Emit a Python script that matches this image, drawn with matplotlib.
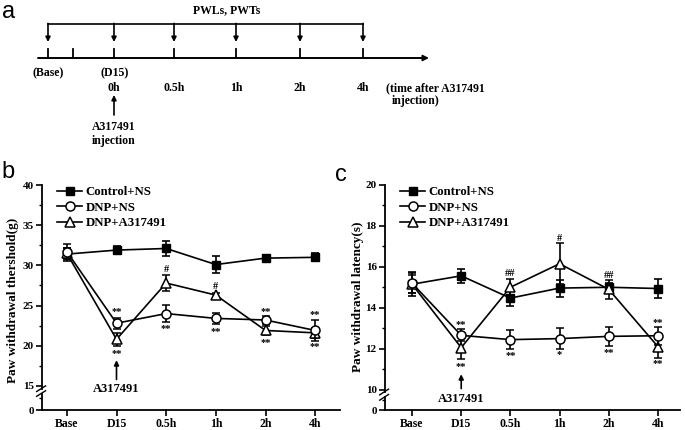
import matplotlib
matplotlib.use("Agg")
import matplotlib.pyplot as plt
from matplotlib.lines import Line2D
import matplotlib.transforms as mtransforms

# ---------------- data ----------------
time_labels = ['Base', 'D15', '0.5h', '1h', '2h', '4h']
series_names = ['Control+NS', 'DNP+NS', 'DNP+A317491']

# Panel b: paw withdrawal threshold (g)
pwt_control = [31.4, 31.9, 32.1, 30.1, 30.9, 31.0]
pwt_control_err = [0.8, 0.45, 0.95, 1.1, 0.35, 0.5]
pwt_dnp_ns = [31.7, 22.8, 24.0, 23.4, 23.2, 21.9]
pwt_dnp_ns_err = [0.9, 0.7, 1.1, 0.65, 0.5, 1.35]
pwt_dnp_a = [31.5, 20.8, 27.8, 26.3, 21.9, 21.6]
pwt_dnp_a_err = [0.7, 0.8, 0.95, 0.3, 0.55, 0.6]

# Panel c: paw withdrawal latency (s)
pwl_control = [15.15, 15.56, 14.47, 14.96, 15.0, 14.94]
pwl_control_err = [0.6, 0.33, 0.4, 0.42, 0.2, 0.48]
pwl_dnp_ns = [15.2, 12.65, 12.44, 12.49, 12.6, 12.63]
pwl_dnp_ns_err = [0.5, 0.3, 0.45, 0.5, 0.45, 0.45]
pwl_dnp_a = [15.15, 12.05, 15.0, 16.15, 14.9, 12.1]
pwl_dnp_a_err = [0.45, 0.55, 0.4, 1.0, 0.45, 0.55]

# significance marks (time index, y value, text)
b_marks = [(1, 24.3, '**'), (1, 19.0, '**'), (2, 29.5, '#'), (2, 22.2, '**'),
           (3, 27.4, '#'), (3, 21.8, '**'), (4, 24.3, '**'), (4, 20.35, '**'),
           (5, 23.9, '**'), (5, 19.9, '**')]
c_marks = [(1, 13.17, '**'), (1, 11.14, '**'), (2, 15.69, '##'), (2, 11.66, '**'),
           (3, 17.4, '#'), (3, 11.7, '*'), (4, 15.56, '##'), (4, 11.8, '**'),
           (5, 13.28, '**'), (5, 11.27, '**')]

# y-axis ticks (plotted position, label) for the broken axes
b_yticks = [12, 15, 20, 25, 30, 35, 40]
b_yticklabels = ['0', '15', '20', '25', '30', '35', '40']
b_yminor = [13.5, 17.5, 22.5, 27.5, 32.5, 37.5]
c_yticks = [9, 10, 12, 14, 16, 18, 20]
c_yticklabels = ['0', '10', '12', '14', '16', '18', '20']
c_yminor = [9.5, 11, 13, 15, 17, 19]

# panel a timeline
timeline_ticks_px = [48, 73, 114, 174, 236, 300, 363]
measure_px = [48, 114, 174, 236, 300, 363]
measure_labels = ['0h', '0.5h', '1h', '2h', '4h']

SERIF = 'Liberation Serif'
SANS = 'Liberation Sans'

W, H = 685, 430
fig = plt.figure(figsize=(W / 100, H / 100), dpi=100)

# ---------------- panel a (drawn in pixel coordinates) ----------------
a0 = fig.add_axes([0, 0, 1, 1])
a0.set_xlim(0, W)
a0.set_ylim(H, 0)
a0.axis('off')
fa = dict(family=SERIF, weight='bold', size=8.5)

a0.text(2, 12, 'a', family=SANS, size=17, va='center', ha='left')
a0.text(227, 10, 'PWLs, PWTs', ha='center', va='center', **fa)
a0.plot([measure_px[0], measure_px[-1]], [24, 24], color='k', lw=1.2)
for x in measure_px:
    a0.annotate('', xy=(x, 42), xytext=(x, 23.4),
                arrowprops=dict(arrowstyle='-|>', lw=1.2, color='k',
                                mutation_scale=7, shrinkA=0, shrinkB=0))
a0.annotate('', xy=(429, 58), xytext=(38, 58),
            arrowprops=dict(arrowstyle='-|>', lw=1.4, color='k',
                            mutation_scale=8, shrinkA=0, shrinkB=0))
for x in timeline_ticks_px:
    a0.plot([x, x], [49, 58], color='k', lw=1.3)
a0.text(48, 73, '(Base)', ha='center', va='center', **fa)
a0.text(115, 73, '(D15)', ha='center', va='center', **fa)
for x, lab in zip(measure_px[1:], measure_labels):
    a0.text(x, 88, lab, ha='center', va='center', **fa)
a0.text(386, 88, '(time after A317491', ha='left', va='center', **fa)
a0.text(392, 101, 'injection)', ha='left', va='center', **fa)
a0.annotate('', xy=(114, 95), xytext=(114, 115),
            arrowprops=dict(arrowstyle='-|>', lw=1.2, color='k',
                            mutation_scale=7, shrinkA=0, shrinkB=0))
a0.text(114, 127, 'A317491', ha='center', va='center', **fa)
a0.text(114, 141, 'injection', ha='center', va='center', **fa)


# ---------------- panels b and c ----------------
def panel(rect, ylim, yticks, yticklabels, yminor, ctrl, ctrl_e, ns, ns_e, da, da_e,
          marks, ylabel, ylabel_px, letter_px, letter, brk, arrow, xlim):
    ax = fig.add_axes(rect)
    x = list(range(len(time_labels)))
    lw = 1.2
    common = dict(color='k', lw=lw, elinewidth=lw, capsize=3, capthick=lw, clip_on=False)
    ax.errorbar(x, ctrl, yerr=ctrl_e, marker='s', ms=5.5, mfc='k', mec='k', zorder=3, **common)
    ax.errorbar(x, da, yerr=da_e, marker='^', ms=7, mfc='white', mec='k', mew=1.1, zorder=4, **common)
    ax.errorbar(x, ns, yerr=ns_e, marker='o', ms=6.5, mfc='white', mec='k', mew=1.1, zorder=5, **common)
    ax.set_xlim(*xlim)
    ax.set_ylim(*ylim)
    for s in ['top', 'right', 'left']:
        ax.spines[s].set_visible(False)
    ax.spines['bottom'].set_linewidth(1.3)
    ax.set_xticks(x)
    ax.set_xticklabels(time_labels, family=SERIF, weight='bold', size=8.5)
    ax.set_yticks(yticks)
    ax.set_yticklabels(yticklabels, family=SERIF, weight='bold', size=8)
    ax.set_yticks(yminor, minor=True)
    ax.tick_params(axis='both', which='major', direction='out', length=4, width=1.2, pad=2)
    ax.tick_params(axis='y', which='minor', direction='out', length=2.5, width=1.0)
    # broken left spine
    tr = mtransforms.blended_transform_factory(ax.transAxes, ax.transData)
    lo, hi, dy = brk
    ax.plot([0, 0], [ylim[0], lo], color='k', lw=1.3, transform=tr, clip_on=False)
    ax.plot([0, 0], [hi, ylim[1]], color='k', lw=1.3, transform=tr, clip_on=False)
    for yc in (lo, hi):
        ax.plot([-0.018, 0.012], [yc - dy, yc + dy], color='k', lw=1.0,
                transform=tr, clip_on=False)
    # significance marks
    for xi, yv, t in marks:
        ax.text(xi, yv, t, ha='center', va='center', family=SERIF, weight='bold', size=7.5)
    # injection arrow
    tip, tail, ytext = arrow
    ax.annotate('', xy=(1, tip), xytext=(1, tail),
                arrowprops=dict(arrowstyle='-|>', lw=1.2, color='k',
                                mutation_scale=7, shrinkA=0, shrinkB=0))
    ax.text(1, ytext, 'A317491', ha='center', va='center', family=SERIF, weight='bold', size=9)
    # legend
    handles = [Line2D([], [], color='k', lw=lw, marker='s', ms=5.5, mfc='k', mec='k'),
               Line2D([], [], color='k', lw=lw, marker='o', ms=6.5, mfc='white', mec='k', mew=1.1),
               Line2D([], [], color='k', lw=lw, marker='^', ms=7, mfc='white', mec='k', mew=1.1)]
    ax.legend(handles, series_names, loc='upper left', bbox_to_anchor=(0.05, 0.995),
              frameon=False, handlelength=2.0, handletextpad=0.25, labelspacing=0.27,
              borderaxespad=0, borderpad=0,
              prop=dict(family=SERIF, weight='bold', size=9.2))
    fig.text(ylabel_px[0] / W, 1 - ylabel_px[1] / H, ylabel, rotation=90, ha='center', va='center',
             family=SERIF, weight='bold', size=9.5)
    fig.text(letter_px[0] / W, 1 - letter_px[1] / H, letter, family=SANS, size=17,
             ha='left', va='center')
    return ax


axb = panel([42 / W, 1 - 410 / H, 298 / W, 225 / H], (12, 40), b_yticks, b_yticklabels, b_yminor,
            pwt_control, pwt_control_err, pwt_dnp_ns, pwt_dnp_ns_err, pwt_dnp_a, pwt_dnp_a_err,
            b_marks, 'Paw withdrawal thershold(g)', (13, 300), (1, 172), 'b',
            (14.05, 14.65, 0.35), (18.2, 15.8, 14.6), (-0.5, 5.5))
axc = panel([385 / W, 1 - 410 / H, 295 / W, 225 / H], (9, 20), c_yticks, c_yticklabels, c_yminor,
            pwl_control, pwl_control_err, pwl_dnp_ns, pwl_dnp_ns_err, pwl_dnp_a, pwl_dnp_a_err,
            c_marks, 'Paw withdrawal latency(s)', (358, 297), (335, 175), 'c',
            (9.62, 9.88, 0.14), (10.75, 10.05, 9.55), (-0.55, 5.45))

fig.savefig('out.png', dpi=100)
